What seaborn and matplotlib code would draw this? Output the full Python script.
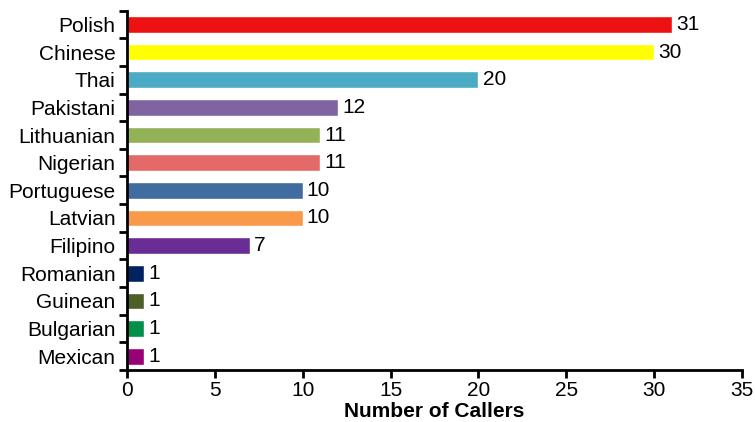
import numpy as np
import pandas as pd
import matplotlib
matplotlib.use("Agg")
import matplotlib.pyplot as plt
import seaborn as sns

# data
nationalities = ["Polish", "Chinese", "Thai", "Pakistani", "Lithuanian", "Nigerian",
                 "Portuguese", "Latvian", "Filipino", "Romanian", "Guinean",
                 "Bulgarian", "Mexican"]
callers = [31, 30, 20, 12, 11, 11, 10, 10, 7, 1, 1, 1, 1]
bar_colors = ["#EE1111", "#FFFF00", "#4BAAC6", "#8064A2", "#93B156", "#E46A6A",
              "#416C9F", "#F99A4B", "#6A2D95", "#00235F", "#4E5F27",
              "#00904A", "#990075"]

df = pd.DataFrame({"Nationality": nationalities, "Callers": callers})

sns.set_style("ticks")
plt.rcParams["font.family"] = ["Liberation Sans", "DejaVu Sans"]
plt.rcParams.update({"text.color": "black", "axes.labelcolor": "black",
                     "xtick.color": "black", "ytick.color": "black"})

fig, ax = plt.subplots(figsize=(7.55, 4.22), dpi=100)
fig.subplots_adjust(left=0.168, right=0.983, top=0.975, bottom=0.123)

sns.barplot(data=df, x="Callers", y="Nationality", hue="Nationality",
            palette=bar_colors, orient="h", width=0.6, legend=False,
            saturation=1, ax=ax)

for cont in ax.containers:
    ax.bar_label(cont, fmt="%d", padding=3, fontsize=15, color="black")

ax.set_xlim(0, 35)
ax.set_xticks(np.arange(0, 36, 5))
ax.set_ylim(len(nationalities) - 0.5, -0.5)

# y ticks sit on the category boundaries
ax.set_yticks(np.arange(len(nationalities) + 1) - 0.5, minor=True)
ax.tick_params(axis="y", which="major", length=0, labelsize=15, pad=8)
ax.tick_params(axis="y", which="minor", length=6, width=2, direction="out")
ax.tick_params(axis="x", which="major", length=6, width=2, direction="out",
               labelsize=15, pad=2)

ax.set_xlabel("Number of Callers", fontsize=15, fontweight="bold", labelpad=1)
ax.set_ylabel("")

sns.despine(ax=ax, top=True, right=True)
for side in ["left", "bottom"]:
    ax.spines[side].set_linewidth(2)
    ax.spines[side].set_color("black")

fig.savefig("out.png", dpi=100)
